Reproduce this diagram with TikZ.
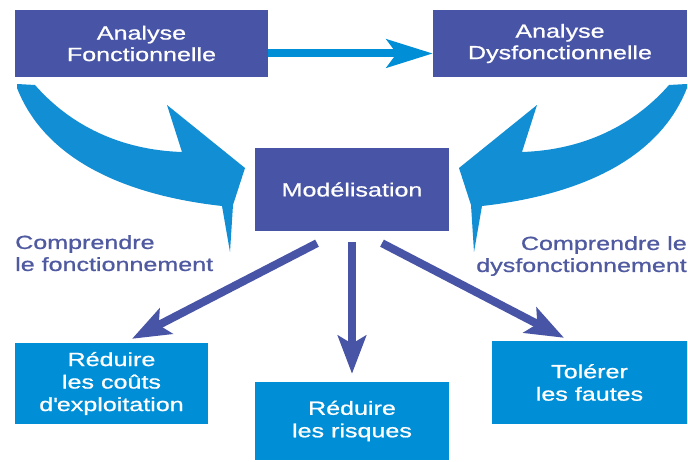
\documentclass[tikz,border=0pt]{standalone}
\usepackage{fontspec}
\setmainfont{Liberation Sans}[FakeStretch=1.32,FakeBold=0.9]
\usetikzlibrary{arrows.meta}
\definecolor{dboxc}{RGB}{72,84,165}
\definecolor{lboxc}{RGB}{0,142,214}
\definecolor{swc}{RGB}{18,142,212}
\definecolor{labc}{RGB}{80,90,160}
\tikzset{
  dbox/.style={fill=dboxc, text=white, inner sep=0pt, align=center, font=\fontsize{19}{21.5}\selectfont},
  lbox/.style={fill=lboxc, text=white, inner sep=0pt, align=center, font=\fontsize{19}{22.5}\selectfont},
  lab/.style={text=labc, inner sep=0pt, font=\fontsize{19}{22}\selectfont},
  harrow/.style={draw=lboxc, line width=8pt, -{Stealth[length=46pt,width=28pt,inset=10pt]}},
  darrow/.style={draw=dboxc, line width=8pt, -{Stealth[length=38pt,width=28pt,inset=8pt]}},
  swoosh/.style={fill=swc}
}
\newcommand{\swooshpath}{%
  (17,84) -- (35,85) .. controls (70,125) and (120,150) .. (182,152)
  -- (167,105) -- (245,168) -- (233,205) -- (230,252) -- (222,206)
  .. controls (150,198) and (50,172) .. (17,88) -- cycle}
\begin{document}
\begin{tikzpicture}[x=1pt,y=-1pt]
\useasboundingbox (0,0) rectangle (688,462);
\fill[white] (0,0) rectangle (688,462);
% swooshes
\fill[swoosh] \swooshpath;
\begin{scope}[shift={(704,0)}, xscale=-1]
  \fill[swoosh] \swooshpath;
\end{scope}
% boxes
\node[dbox, minimum width=253pt, minimum height=67pt] (af) at (141.5,43.5) {Analyse\\Fonctionnelle};
\node[dbox, minimum width=254pt, minimum height=67pt] (ad) at (560,43.5) {Analyse\\Dysfonctionnelle};
\node[dbox, minimum width=194pt, minimum height=83pt] (mod) at (352,189.5) {Modélisation};
\node[lbox, minimum width=193pt, minimum height=81pt] (r1) at (111.5,383.5) {Réduire\\les coûts\\d\textquotesingle exploitation};
\node[lbox, minimum width=194pt, minimum height=78pt] (r2) at (352,421) {Réduire\\les risques};
\node[lbox, minimum width=195pt, minimum height=83pt] (r3) at (589.5,382.5) {Tolérer\\les fautes};
% labels
\node[lab, anchor=north west, align=left] (l1) at (15,235) {Comprendre\\le fonctionnement};
\node[lab, anchor=north east, align=right] (l2) at (687,236) {Comprendre le\\dysfonctionnement};
% connectors
\draw[harrow] ([yshift=-10pt]af.east) -- ([yshift=-10pt]ad.west);
\draw[darrow] ([xshift=-35pt,yshift=-12pt]mod.south) -- ([xshift=20.5pt,yshift=4pt]r1.north);
\draw[darrow] ([yshift=-11pt]mod.south) -- ([yshift=8pt]r2.north);
\draw[darrow] ([xshift=30pt,yshift=-12pt]mod.south) -- ([xshift=-25.5pt,yshift=3pt]r3.north);
\end{tikzpicture}
\end{document}
